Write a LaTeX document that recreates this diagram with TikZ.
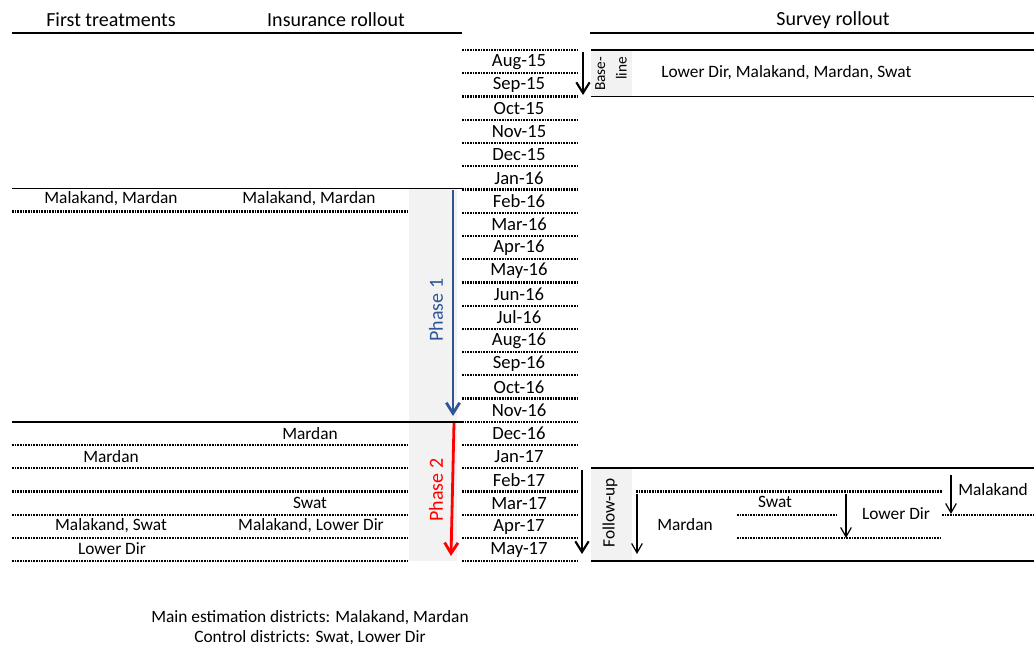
\documentclass[tikz,border=0pt]{standalone}
\usepackage{fontspec}
\setmainfont{Carlito}
\usepackage{tikz}
\usetikzlibrary{arrows.meta}
\definecolor{phaseblue}{RGB}{47,85,151}
\definecolor{boxgray}{RGB}{242,242,242}

\begin{document}
\begin{tikzpicture}[x=0.75pt, y=-0.75pt,
	head/.style={font=\fontsize{15}{18}\selectfont, inner sep=0pt},
	txt/.style={font=\fontsize{13}{15}\selectfont, inner sep=0pt},
	month/.style={font=\fontsize{14}{16}\selectfont, inner sep=0pt},
	rule/.style={line width=1.4pt},
	dots/.style={line width=1.7pt, dash pattern=on 1.2pt off 0.8pt},
	bigarrow/.style={>={Straight Barb[length=8pt,width=10pt]}, ->, line width=1.6pt},
	thinarrow/.style={>={Straight Barb[length=7pt,width=8pt]}, ->, line width=0.9pt},
	phasearrow/.style={>={Straight Barb[length=8pt,width=10pt]}, ->, line width=2.1pt}]
	\useasboundingbox (0,0) rectangle (1034,648);
	% grey bands
	\fill[boxgray] (409,189.4) rectangle (457,561.3);
	\fill[boxgray] (591,50) rectangle (632,96.5);
	\fill[boxgray] (591,468.3) rectangle (632,561.3);
	% headings
	\node[head] (ft) at (111,20) {First treatments};
	\node[head] (ir) at (336,20) {Insurance rollout};
	\node[head] (sr) at (833,20) {Survey rollout};
	\draw[rule] (12,33) -- (462,33);
	\draw[rule] (590,33) -- (1034,33);
	% months
	\foreach \m [count=\i from 0] in {Aug-15,Sep-15,Oct-15,Nov-15,Dec-15,Jan-16,Feb-16,Mar-16,Apr-16,May-16,Jun-16,Jul-16,Aug-16,Sep-16,Oct-16,Nov-16,Dec-16,Jan-17,Feb-17,Mar-17,Apr-17,May-17}
		\node[month] (m\i) at (519,{61.8+23.24*\i}) {\m};
	\foreach \k in {0,...,22}
		\draw[dots] (462,{50+23.24*\k}) -- (577,{50+23.24*\k});
	% left columns
	\draw[rule] (12,188.5) -- (462,188.5);
	\draw[rule] (12,421.8) -- (462,421.8);
	\foreach \y in {211.5,445.1,468.3,491.6,514.8,538.1,561.3}
		\draw[dots] (12,\y) -- (409,\y);
	\node[txt] (t1) at (111,199) {Malakand, Mardan};
	\node[txt] (i1) at (309,199) {Malakand, Mardan};
	\node[txt] (i2) at (310,434) {Mardan};
	\node[txt] (t2) at (111,457) {Mardan};
	\node[txt] (i3) at (310,503) {Swat};
	\node[txt] (t3) at (111,526) {Malakand, Swat};
	\node[txt] (i4) at (311,526) {Malakand, Lower Dir};
	\node[txt] (t4) at (112,549) {Lower Dir};
	% phases
	\coordinate (p1s) at (453,190);
	\coordinate (p1e) at (453,416);
	\draw[phasearrow, phaseblue] (p1s) -- (p1e);
	\node[head, rotate=90, text=phaseblue] (p1) at (436,310) {Phase 1};
	\coordinate (p2s) at (454,423);
	\coordinate (p2e) at (451,556);
	\draw[phasearrow, red] (p2s) -- (p2e);
	\node[head, rotate=90, text=red] (p2) at (436,490) {Phase 2};
	% baseline survey
	\draw[rule] (591,50) -- (1034,50);
	\draw[rule] (591,96.5) -- (1034,96.5);
	\coordinate (bs) at (583,52);
	\coordinate (be) at (583,95);
	\draw[bigarrow] (bs) -- (be);
	\node[font=\fontsize{11.5}{16}\selectfont, rotate=90, align=right, inner sep=0pt] (bl) at (611,74) {Base-\\line};
	\node[txt, anchor=west] (bd) at (661,73) {Lower Dir, Malakand, Mardan, Swat};
	% follow-up survey
	\draw[rule] (591,468.3) -- (1034,468.3);
	\draw[rule] (591,561.3) -- (1034,561.3);
	\coordinate (fs) at (582,470);
	\coordinate (fe) at (582,554);
	\draw[bigarrow] (fs) -- (fe);
	\node[txt, rotate=90] (fu) at (610,513) {Follow-up};
	\draw[dots] (636,491.6) -- (942,491.6);
	\draw[dots] (737,514.8) -- (838,514.8);
	\draw[dots] (942,514.8) -- (1034,514.8);
	\draw[dots] (737,538.1) -- (942,538.1);
	\coordinate (a1s) at (637,494);
	\coordinate (a1e) at (637,554);
	\draw[thinarrow] (a1s) -- (a1e);
	\node[txt] (fmd) at (685,525) {Mardan};
	\node[txt] (fsw) at (775,502) {Swat};
	\coordinate (a2s) at (846,494);
	\coordinate (a2e) at (846,538);
	\draw[thinarrow] (a2s) -- (a2e);
	\node[txt] (fld) at (896,514) {Lower Dir};
	\coordinate (a3s) at (951,475);
	\coordinate (a3e) at (951,514);
	\draw[thinarrow] (a3s) -- (a3e);
	\node[txt] (fmk) at (993,490) {Malakand};
	% note
	\node[txt, align=center, font=\fontsize{13}{15}\selectfont] (note) at (310,628) {Main estimation districts: Malakand, Mardan\\Control districts: Swat, Lower Dir};
\end{tikzpicture}
\end{document}
